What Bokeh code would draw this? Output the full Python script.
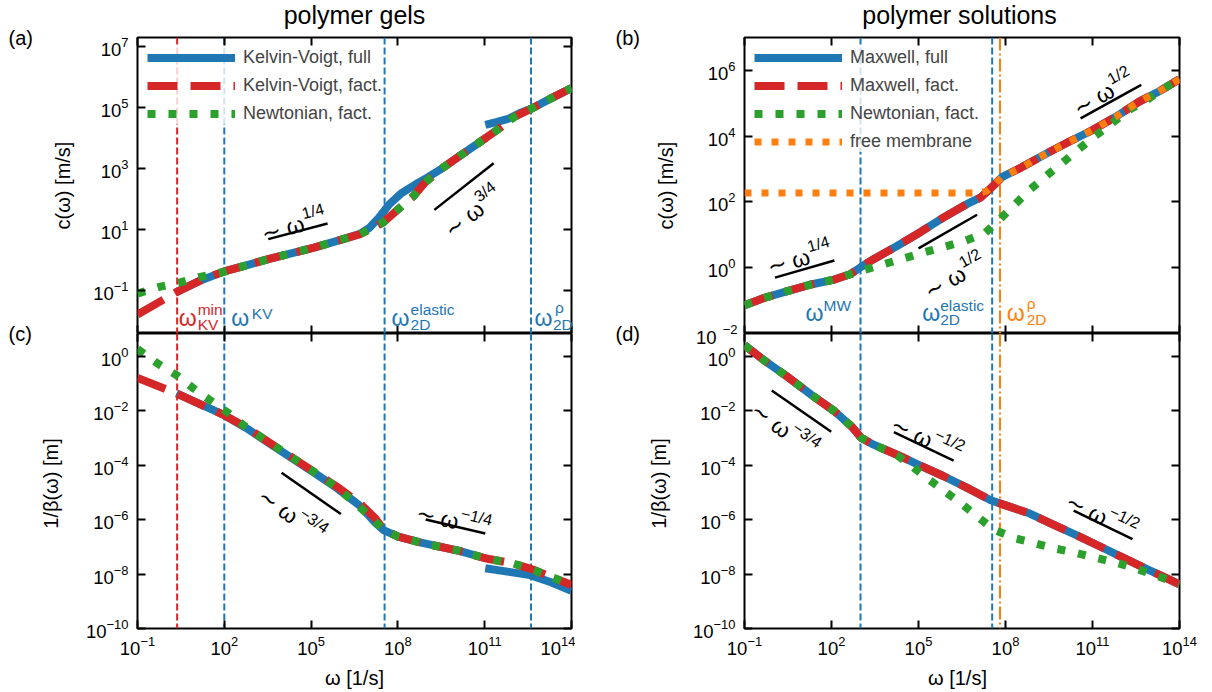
import numpy as np
from bokeh.plotting import figure
from bokeh.models import Range1d, LogAxis, FixedTicker, Label, Span, CustomJSTickFormatter
from bokeh.layouts import column, row
from bokeh.embed import file_html
from bokeh.resources import INLINE

FONT = "Liberation Sans"
BLUE, RED, GREEN, ORANGE, BLACK = "#1f77b4", "#d62728", "#2ca02c", "#ff7f0e", "black"


def fs(px):
    return f"{px:.1f}px"


# ---------------- ticks ----------------
x_ticks = [1e-1, 1e2, 1e5, 1e8, 1e11, 1e14]
a_yticks = [1e-1, 1e1, 1e3, 1e5, 1e7]
b_yticks = [1e0, 1e2, 1e4, 1e6]          # the 10^-2 label on the shared edge is drawn separately
cd_yticks = [1e-10, 1e-8, 1e-6, 1e-4, 1e-2, 1e0]

# ---------------- (a) polymer gels, c(omega): log10 values ----------------
a_kvfact_lw = [-1.0, 0.33, 1.2, 2.0, 2.73, 3.52, 4.31, 5.10, 5.90, 6.69, 7.15, 7.48, 8.01, 8.54, 8.93, 9.46, 10.12, 10.78, 11.44, 12.04, 12.63, 13.29, 14.0]
a_kvfact_lc = [-1.79, -1.06, -0.66, -0.37, -0.18, 0.03, 0.22, 0.41, 0.63, 0.85, 1.07, 1.23, 1.67, 2.10, 2.54, 2.97, 3.41, 3.84, 4.28, 4.71, 4.98, 5.31, 5.65]
a_kvfull_lw = [0.33, 1.2, 2.0, 2.73, 3.52, 4.31, 5.10, 5.90, 6.69, 7.0, 7.35, 7.7, 8.1, 8.6, 9.0, 9.46, 10.12, 10.78, 11.05]
a_kvfull_lc = [-1.06, -0.66, -0.37, -0.18, 0.03, 0.22, 0.41, 0.63, 0.86, 1.05, 1.40, 1.83, 2.18, 2.48, 2.70, 2.97, 3.41, 3.84, 4.02]
a_kvfull2_lw = [11.02, 11.4, 11.84, 12.2, 12.63, 13.29, 14.0]
a_kvfull2_lc = [4.44, 4.53, 4.65, 4.82, 4.98, 5.31, 5.65]
a_newt_lw = [-1.0, -0.21, 0.48, 1.21, 1.93, 2.73, 3.52, 4.31, 5.10, 5.90, 6.69, 7.15, 7.48, 8.01, 8.54, 8.93, 9.46, 10.12, 10.78, 11.44, 12.04, 12.63, 13.29, 14.0]
a_newt_lc = [-1.10, -0.87, -0.73, -0.54, -0.40, -0.18, 0.03, 0.22, 0.41, 0.63, 0.85, 1.07, 1.23, 1.67, 2.10, 2.54, 2.97, 3.41, 3.84, 4.28, 4.71, 4.98, 5.31, 5.65]

# ---------------- (c) polymer gels, 1/beta(omega) ----------------
c_kvfact_lw = [-1.0, 0.35, 2.0, 2.73, 3.52, 4.31, 5.10, 5.90, 6.69, 7.22, 7.52, 8.01, 8.80, 10.12, 11.05, 11.97, 12.57, 13.29, 14.0]
c_kvfact_lb = [-0.80, -1.37, -2.17, -2.59, -3.15, -3.70, -4.25, -4.80, -5.41, -5.96, -6.39, -6.63, -6.85, -7.15, -7.43, -7.61, -7.80, -8.10, -8.40]
c_kvfull_lw = [0.35, 2.0, 2.73, 3.52, 4.31, 5.10, 5.90, 6.69, 7.22, 7.52, 8.01, 8.80, 10.12, 11.05]
c_kvfull_lb = [-1.37, -2.17, -2.62, -3.18, -3.73, -4.28, -4.85, -5.50, -6.12, -6.40, -6.63, -6.85, -7.15, -7.43]
c_kvfull2_lw = [11.02, 11.84, 12.57, 13.29, 14.0]
c_kvfull2_lb = [-7.79, -7.92, -8.04, -8.30, -8.62]
c_newt_lw = [-1.0, -0.31, 0.35, 0.94, 1.51, 2.13, 2.73, 3.52, 4.31, 5.10, 5.90, 6.69, 7.22, 7.52, 8.01, 8.80, 10.12, 11.05, 11.97, 12.57, 13.29, 14.0]
c_newt_lb = [0.26, -0.27, -0.70, -1.19, -1.62, -2.08, -2.59, -3.15, -3.70, -4.25, -4.83, -5.55, -6.08, -6.38, -6.63, -6.85, -7.15, -7.43, -7.61, -7.80, -8.10, -8.40]

# ---------------- (b) polymer solutions, c(omega) ----------------
b_mw_lw = [-1.0, -0.33, 0.48, 1.29, 2.10, 2.64, 2.98, 3.45, 4.26, 5.06, 5.87, 6.68, 7.15, 7.53, 7.89, 8.57, 9.51, 10.19, 10.99, 11.80, 12.61, 13.29, 14.0]
b_mw_lc = [-1.14, -0.92, -0.71, -0.51, -0.36, -0.20, 0.0, 0.26, 0.66, 1.08, 1.53, 1.94, 2.14, 2.45, 2.76, 3.06, 3.52, 3.83, 4.18, 4.59, 5.05, 5.36, 5.73]
b_newt_lw = [-1.0, -0.33, 0.48, 1.29, 2.10, 2.64, 3.07, 3.78, 5.17, 6.55, 7.29, 7.79, 8.34, 8.84, 9.40, 9.96, 10.52, 11.10, 11.71, 12.27, 12.88, 13.29, 14.0]
b_newt_lc = [-1.14, -0.92, -0.71, -0.51, -0.36, -0.20, -0.08, 0.10, 0.46, 0.80, 1.05, 1.46, 1.94, 2.37, 2.79, 3.19, 3.60, 4.01, 4.42, 4.80, 5.10, 5.36, 5.73]
b_free_lw = [-1.0, 7.05, 7.35, 7.6, 7.89, 8.57, 9.51, 10.19, 10.99, 11.80, 12.61, 13.29, 14.0]
b_free_lc = [2.27, 2.27, 2.33, 2.52, 2.76, 3.06, 3.52, 3.83, 4.18, 4.59, 5.05, 5.36, 5.73]

# ---------------- (d) polymer solutions, 1/beta(omega) ----------------
d_mw_lw = [-1.0, -0.33, 0.48, 1.29, 2.10, 2.71, 3.02, 3.45, 4.26, 5.06, 5.87, 6.68, 7.49, 8.03, 8.84, 9.65, 10.46, 11.26, 12.07, 12.88, 13.42, 14.0]
d_mw_lb = [0.40, -0.15, -0.76, -1.41, -2.02, -2.60, -3.00, -3.25, -3.62, -4.02, -4.41, -4.84, -5.29, -5.49, -5.78, -6.19, -6.58, -6.99, -7.41, -7.82, -8.09, -8.38]
d_newt_lw = [-1.0, -0.33, 0.48, 1.29, 2.10, 2.71, 3.02, 3.45, 4.26, 4.66, 5.33, 5.87, 6.48, 7.02, 7.60, 8.30, 8.97, 9.65, 10.39, 11.13, 11.87, 12.54, 13.29, 14.0]
d_newt_lb = [0.40, -0.15, -0.76, -1.41, -2.02, -2.60, -3.00, -3.25, -3.64, -3.95, -4.51, -4.94, -5.42, -5.88, -6.37, -6.68, -6.86, -7.05, -7.21, -7.41, -7.60, -7.82, -8.09, -8.38]

# ---------------- characteristic frequencies (log10) ----------------
gel_w_kvmin, gel_w_kv, gel_w_el, gel_w_rho = 0.37, 2.0, 7.54, 12.6
sol_w_mw, sol_w_el, sol_w_rho = 3.0, 7.54, 7.81

# ---------------- scaling guide segments (log10 endpoints) ----------------
a_seg_w = [[3.52, 5.57], [9.26, 11.31]]
a_seg_v = [[0.69, 1.20], [1.65, 3.18]]
b_seg_w = [[0.05, 2.10], [5.0, 7.02], [10.59, 12.68]]
b_seg_v = [[-0.30, 0.22], [0.59, 1.61], [4.54, 5.56]]
c_seg_w = [[3.98, 6.03], [8.96, 11.02]]
c_seg_v = [[-4.28, -5.80], [-6.0, -6.51]]
d_seg_w = [[-0.06, 1.99], [4.15, 6.21], [10.35, 12.38]]
d_seg_v = [[-1.26, -2.78], [-2.79, -3.84], [-5.67, -6.72]]

# scaling texts: (log w, log y, angle deg, exponent)
a_txt = [(3.30, 0.86, 14.7, "1/4"), (9.70, 0.90, 38.3, "3/4")]
b_txt = [(-0.20, 0.0, 15.8, "1/4"), (5.27, -0.77, 29.6, "1/2"), (10.39, 4.80, 29.6, "1/2")]
c_txt = [(3.25, -5.04, -35.2, "\u22123/4"), (8.64, -5.72, -13.2, "\u22121/4")]
d_txt = [(-0.70, -1.90, -35.2, "\u22123/4"), (4.09, -2.45, -25.2, "\u22121/2"), (10.12, -5.29, -25.2, "\u22121/2")]

# panel ranges (log10)
a_yr, b_yr, cd_yr = (-2.41, 7.31), (-2.0, 7.0), (-10.0, 0.83)
x_lr = (-1.0, 14.0)

# texts outside the panels
titles = ["polymer gels", "polymer solutions"]
panel_tags = ["(a)", "(b)", "(c)", "(d)"]
ylabels = ["c(\u03c9) [m/s]", "c(\u03c9) [m/s]", "1/\u03b2(\u03c9) [m]", "1/\u03b2(\u03c9) [m]"]
xlabel = "\u03c9 [1/s]"


def p10(a):
    return [10.0 ** v for v in a]


def style_axis(ax, ticks, labels):
    ax.ticker = FixedTicker(ticks=ticks)
    ax.axis_line_color = None
    ax.major_tick_in = 8
    ax.major_tick_out = 0
    ax.major_tick_line_width = 2
    ax.major_tick_line_color = BLACK
    ax.minor_tick_line_color = None
    ax.major_label_text_font = FONT
    ax.major_label_text_color = BLACK
    if labels:
        ax.major_label_text_font_size = fs(18.5)
        ax.major_label_standoff = 9
    else:
        ax.formatter = CustomJSTickFormatter(code="return ''")
        ax.major_label_text_font_size = "1px"
        ax.major_label_standoff = 0


def make_fig(w, h, borders, ylog, yticks, xlabels):
    l, r, t, b = borders
    p = figure(width=w, height=h, x_axis_type="log", y_axis_type="log",
               x_range=Range1d(10 ** x_lr[0], 10 ** x_lr[1]), y_range=Range1d(10 ** ylog[0], 10 ** ylog[1]),
               output_backend="svg", toolbar_location=None, tools="",
               min_border_left=l, min_border_right=r, min_border_top=t, min_border_bottom=b)
    p.grid.visible = False
    p.outline_line_color = BLACK
    p.outline_line_width = 2
    p.outline_line_alpha = 1.0
    p.background_fill_color = "white"
    p.border_fill_color = "white"
    style_axis(p.xaxis[0], x_ticks, xlabels)
    if xlabels:
        p.xaxis[0].major_label_standoff = 7
    style_axis(p.yaxis[0], yticks, True)
    ra = LogAxis()
    style_axis(ra, yticks, False)
    p.add_layout(ra, "right")
    ta = LogAxis()
    style_axis(ta, x_ticks, False)
    p.add_layout(ta, "above")
    return p


def curve(p, xs, ys, color, width, dash, legend=None):
    kw = dict(line_color=color, line_width=width, line_dash=dash, line_cap="butt", line_join="round")
    if legend:
        kw["legend_label"] = legend
    p.line(p10(xs), p10(ys), **kw)


def vline(p, lw, color, dash):
    p.add_layout(Span(location=10 ** lw, dimension="height", line_color=color, line_width=2,
                      line_dash=dash, level="underlay"))


def segs(p, ws, vs):
    for w, v in zip(ws, vs):
        p.line(p10(w), p10(v), line_color=BLACK, line_width=2.5)


def slope_texts(p, items):
    for (lw, lv, ang, ex) in items:
        th = np.radians(ang)
        p.add_layout(Label(x=10 ** lw, y=10 ** lv, text="\u223c \u03c9", angle=th,
                           text_font=FONT, text_font_size=fs(23), text_color=BLACK,
                           text_align="left", text_baseline="alphabetic"))
        wmain, rise = 44, 9
        dx = wmain * np.cos(th) - rise * np.sin(th)
        dy = wmain * np.sin(th) + rise * np.cos(th)
        p.add_layout(Label(x=10 ** lw, y=10 ** lv, x_offset=dx, y_offset=dy, text=ex, angle=th,
                           text_font=FONT, text_font_size=fs(16), text_color=BLACK,
                           text_align="left", text_baseline="alphabetic"))


def style_legend(p):
    lg = p.legend[0]
    lg.location = "top_left"
    lg.margin = 10
    lg.padding = 6
    lg.spacing = 7
    lg.glyph_width = 88
    lg.glyph_height = 21
    lg.label_height = 21
    lg.label_standoff = 8
    lg.label_text_font = FONT
    lg.label_text_font_size = fs(18)
    lg.background_fill_alpha = 0.8
    lg.border_line_color = None


# ---------------- layout sizes ----------------
W_TOT, H_TOT = 1204, 690
LW_W, RW_W = 575, 629
TOP_H, BOT_H = 333, 357
L_B = (137, 4, 37, 0)
R_B = (169, 25, 37, 0)
LB_B = (137, 4, 0, 62)
RB_B = (169, 25, 0, 62)
L_FRAME = (137, 434)   # left, width of the left-column frames (page px)
R_FRAME = (744, 435)

# ---------------- (a) ----------------
pa = make_fig(LW_W, TOP_H, L_B, a_yr, a_yticks, False)
vline(pa, gel_w_kvmin, RED, "7 3")
for v in (gel_w_kv, gel_w_el, gel_w_rho):
    vline(pa, v, BLUE, "7 3")
curve(pa, a_kvfull_lw, a_kvfull_lc, BLUE, 8, "solid", "Kelvin-Voigt, full")
curve(pa, a_kvfull2_lw, a_kvfull2_lc, BLUE, 8, "solid")
curve(pa, a_kvfact_lw, a_kvfact_lc, RED, 8, "30 13", "Kelvin-Voigt, fact.")
curve(pa, a_newt_lw, a_newt_lc, GREEN, 8, "8 13", "Newtonian, fact.")
segs(pa, a_seg_w, a_seg_v)
slope_texts(pa, a_txt)
style_legend(pa)

# ---------------- (b) ----------------
pb = make_fig(RW_W, TOP_H, R_B, b_yr, b_yticks, False)
vline(pb, sol_w_mw, BLUE, "7 3")
vline(pb, sol_w_el, BLUE, "7 3")
vline(pb, sol_w_rho, ORANGE, "13 3 2 3")
curve(pb, b_mw_lw, b_mw_lc, BLUE, 8, "solid", "Maxwell, full")
curve(pb, b_mw_lw, b_mw_lc, RED, 8, "30 13", "Maxwell, fact.")
curve(pb, b_newt_lw, b_newt_lc, GREEN, 8, "8 13", "Newtonian, fact.")
curve(pb, b_free_lw, b_free_lc, ORANGE, 7, "7 10", "free membrane")
segs(pb, b_seg_w, b_seg_v)
slope_texts(pb, b_txt)
style_legend(pb)

# ---------------- (c) ----------------
pc = make_fig(LW_W, BOT_H, LB_B, cd_yr, cd_yticks, True)
vline(pc, gel_w_kvmin, RED, "7 3")
for v in (gel_w_kv, gel_w_el, gel_w_rho):
    vline(pc, v, BLUE, "7 3")
curve(pc, c_kvfull_lw, c_kvfull_lb, BLUE, 8, "solid")
curve(pc, c_kvfull2_lw, c_kvfull2_lb, BLUE, 8, "solid")
curve(pc, c_kvfact_lw, c_kvfact_lb, RED, 8, "30 13")
curve(pc, c_newt_lw, c_newt_lb, GREEN, 8, "8 13")
segs(pc, c_seg_w, c_seg_v)
slope_texts(pc, c_txt)

# ---------------- (d) ----------------
pd = make_fig(RW_W, BOT_H, RB_B, cd_yr, cd_yticks, True)
vline(pd, sol_w_mw, BLUE, "7 3")
vline(pd, sol_w_el, BLUE, "7 3")
vline(pd, sol_w_rho, ORANGE, "13 3 2 3")
curve(pd, d_mw_lw, d_mw_lb, BLUE, 8, "solid")
curve(pd, d_mw_lw, d_mw_lb, RED, 8, "30 13")
curve(pd, d_newt_lw, d_newt_lb, GREEN, 8, "8 13")
segs(pd, d_seg_w, d_seg_v)
slope_texts(pd, d_txt)

# ---------------- transparent overlay for the texts around / on the panel edges ----------------
ov = figure(width=W_TOT, height=H_TOT, x_range=Range1d(0, W_TOT), y_range=Range1d(0, H_TOT),
            x_axis_location=None, y_axis_location=None, toolbar_location=None, tools="",
            output_backend="svg", min_border=0, min_border_left=0, min_border_right=0,
            min_border_top=0, min_border_bottom=0, margin=(-H_TOT, 0, 0, 0))
ov.grid.visible = False
ov.outline_line_color = None
ov.background_fill_color = None
ov.border_fill_color = None


def ov_text(x, y_mid, text, size, color=BLACK, align="left", angle=0.0):
    # y_mid: vertical centre of the text, in px from the top of the page
    ov.add_layout(Label(x=x, y=H_TOT - y_mid, text=text, angle=angle,
                        text_font=FONT, text_font_size=fs(size), text_color=color,
                        text_align=align, text_baseline="middle"))


def line_px(frame, lw):
    left, width = frame
    return left + (lw - x_lr[0]) * width / (x_lr[1] - x_lr[0])


def omega_ov(frame, lw, color, wx, wy, parts):
    x0 = line_px(frame, lw)
    ov_text(x0 + wx, wy, "\u03c9", 23, color)
    for (t, dx, yy) in parts:
        ov_text(x0 + dx, yy, t, 15.5, color)


ov_text(354, 14, titles[0], 25, align="center")
ov_text(959, 14, titles[1], 25, align="center")
ov_text(8, 37.5, panel_tags[0], 20)
ov_text(615, 37.5, panel_tags[1], 20)
ov_text(8, 333, panel_tags[2], 20)
ov_text(615, 333, panel_tags[3], 20)
ov_text(62, 185, ylabels[0], 20, align="center", angle=np.pi / 2)
ov_text(665, 185, ylabels[1], 20, align="center", angle=np.pi / 2)
ov_text(50, 483, ylabels[2], 20, align="center", angle=np.pi / 2)
ov_text(658, 483, ylabels[3], 20, align="center", angle=np.pi / 2)
ov_text(354, 677, xlabel, 20, align="center")
ov_text(957, 677, xlabel, 20, align="center")
# the 10^-2 tick label of panel (b), lying on the edge shared with panel (d)
ov_text(716, 337, "10", 18.5, align="right")
ov_text(737, 328.5, "\u22122", 13, align="right")

# frequency markers of panel (a)
omega_ov(L_FRAME, gel_w_kvmin, RED, 1.5, 317, [("min", 20.5, 309), ("KV", 20.5, 324)])
omega_ov(L_FRAME, gel_w_kv, BLUE, 7, 317, [("KV", 27.5, 313)])
omega_ov(L_FRAME, gel_w_el, BLUE, 7, 317, [("elastic", 26, 309.3), ("2D", 26, 324)])
omega_ov(L_FRAME, gel_w_rho, BLUE, 3.5, 317, [("\u03c1", 24, 307), ("2D", 22, 324)])
# frequency markers of panel (b)
omega_ov(R_FRAME, sol_w_mw, BLUE, -55, 312, [("MW", -37, 305)])
omega_ov(R_FRAME, sol_w_el, BLUE, -70, 312, [("elastic", -52, 305.3), ("2D", -52, 319)])
omega_ov(R_FRAME, sol_w_rho, ORANGE, 6.7, 312, [("\u03c1", 26.7, 303.3), ("2D", 26.7, 319)])

grid = column(row(pa, pb), row(pc, pd))
layout = column(grid, ov)
open("out.html", "w").write(file_html(layout, INLINE, "polymer gels and solutions"))
